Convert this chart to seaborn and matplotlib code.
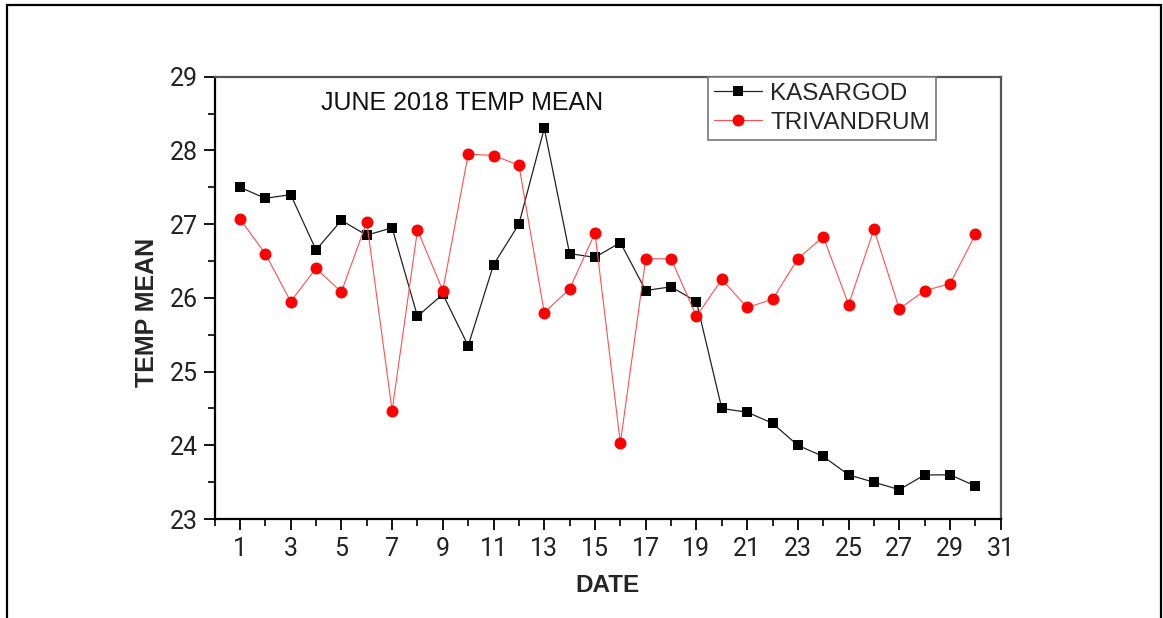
import matplotlib
matplotlib.use("Agg")
import matplotlib.pyplot as plt
from matplotlib.patches import Rectangle
from matplotlib.ticker import FixedLocator, MultipleLocator
import seaborn as sns
import pandas as pd

# Daily mean temperature, June 2018
days = list(range(1, 31))
kasargod = [27.5, 27.35, 27.4, 26.65, 27.05, 26.85, 26.95, 25.75, 26.05, 25.35,
            26.45, 27.0, 28.3, 26.6, 26.55, 26.75, 26.1, 26.15, 25.95, 24.5,
            24.45, 24.3, 24.0, 23.85, 23.6, 23.5, 23.4, 23.6, 23.6, 23.45]
trivandrum = [27.07, 26.6, 25.95, 26.4, 26.08, 27.03, 24.47, 26.92, 26.1, 27.95,
              27.93, 27.8, 25.8, 26.12, 26.88, 24.03, 26.53, 26.53, 25.75, 26.25,
              25.87, 25.98, 26.53, 26.83, 25.91, 26.93, 25.85, 26.1, 26.19, 26.86]

x_major = list(range(1, 32, 2))
x_minor = list(range(0, 31, 2))
y_major = [23, 24, 25, 26, 27, 28, 29]

df = pd.DataFrame({"DATE": days, "KASARGOD": kasargod, "TRIVANDRUM": trivandrum})

sns.set_style("ticks")
plt.rcParams["font.family"] = ["Liberation Sans", "DejaVu Sans"]

fig = plt.figure(figsize=(11.63, 6.18), dpi=100)
ax = fig.add_axes([0.1845, 0.160, 0.676, 0.716])

sns.lineplot(data=df, x="DATE", y="KASARGOD", ax=ax, color="#222222",
             linewidth=0.9, marker="s", markersize=7.2,
             markerfacecolor="black", markeredgecolor="black",
             markeredgewidth=0, label="KASARGOD")
sns.lineplot(data=df, x="DATE", y="TRIVANDRUM", ax=ax, color="#ff5050",
             linewidth=0.8, marker="o", markersize=8.6,
             markerfacecolor="red", markeredgecolor="red",
             markeredgewidth=0, label="TRIVANDRUM")

ax.set_xlim(0, 31)
ax.set_ylim(23, 29)
ax.xaxis.set_major_locator(FixedLocator(x_major))
ax.xaxis.set_minor_locator(FixedLocator(x_minor))
ax.yaxis.set_major_locator(FixedLocator(y_major))
ax.yaxis.set_minor_locator(MultipleLocator(0.5))
ax.set_xticklabels([str(v) for v in x_major])
ax.set_yticklabels([str(v) for v in y_major])

for lab in ax.get_xticklabels() + ax.get_yticklabels():
    lab.set_fontfamily("Roboto")
    lab.set_fontsize(18)
    lab.set_color("#222222")

ax.tick_params(axis="both", which="major", direction="out", length=8,
               width=1.3, color="black")
ax.tick_params(axis="both", which="minor", direction="out", length=5,
               width=1.2, color="black")
ax.tick_params(axis="y", which="major", pad=4)
ax.tick_params(axis="x", which="major", pad=5)

for side in ("left", "bottom"):
    ax.spines[side].set_color("black")
    ax.spines[side].set_linewidth(1.6)
for side in ("top", "right"):
    ax.spines[side].set_visible(True)
    ax.spines[side].set_color("#555555")
    ax.spines[side].set_linewidth(1.6)

ax.set_xlabel("DATE", fontsize=17.5, fontweight="bold")
ax.set_ylabel("TEMP MEAN", fontsize=18, fontweight="bold")
ax.xaxis.set_label_coords(0.5, -0.151)
ax.xaxis.label.set_verticalalignment("center")
ax.yaxis.set_label_coords(-0.0864, 0.466)
ax.yaxis.label.set_verticalalignment("center")

ax.text(0.3143, 0.9406, "JUNE 2018 TEMP MEAN", transform=ax.transAxes,
        ha="center", va="center", fontsize=18, color="#111111")

leg = ax.legend(loc="upper left", bbox_to_anchor=(0.6277, 1.0),
                fontsize=17.5, frameon=True, fancybox=False, shadow=False,
                borderaxespad=0, borderpad=0.25, labelspacing=0.28,
                handlelength=1.95, handletextpad=0.35)
leg.get_frame().set_edgecolor("#777777")
leg.get_frame().set_linewidth(1.2)
leg.get_frame().set_alpha(1)

# Outer border around the figure
fig.patches.append(Rectangle((6.5 / 1163, -0.05), (1161 - 6.5) / 1163, 1.05 - 5 / 618,
                             transform=fig.transFigure, fill=False,
                             edgecolor="black", linewidth=1.6))

fig.savefig("out.png", dpi=100)
